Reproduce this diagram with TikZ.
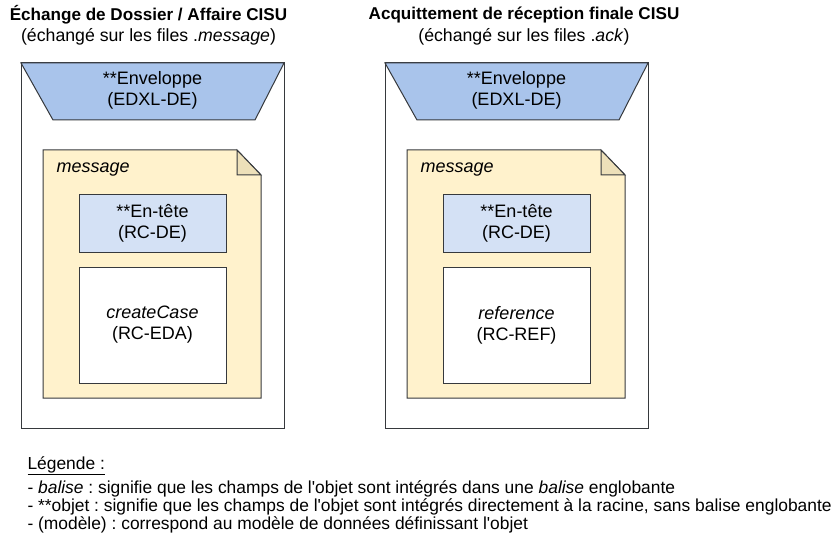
\documentclass[tikz,border=0pt]{standalone}
\usepackage{fontspec}
\setmainfont{Liberation Sans}
\usepackage{tikz}
\frenchspacing
\definecolor{envfill}{HTML}{A9C4EB}
\definecolor{headfill}{HTML}{D4E1F5}
\definecolor{msgfill}{HTML}{FFF2CC}
\definecolor{foldfill}{HTML}{EDE0B9}
\definecolor{edge}{HTML}{36393D}
\tikzset{
  box/.style={draw=edge,line width=1pt},
  lbl/.style={align=center,font=\fontsize{18}{21}\selectfont},
  ttl/.style={align=center,font=\fontsize{17.1}{19}\selectfont\bfseries},
  sub/.style={align=center,font=\fontsize{17.7}{19}\selectfont},
  leg/.style={anchor=west,font=\fontsize{17.4}{19}\selectfont}
}
\begin{document}
\begin{tikzpicture}[x=1pt,y=-1pt]
\useasboundingbox[fill=white](0,0) rectangle (837,540);
% two columns: message / ack
\foreach \dx/\tx/\name/\title/\ext/\body/\model in {
  0/148.5/msg/{Échange de Dossier / Affaire CISU}/message/createCase/RC-EDA,
  364/160/ack/{Acquittement de réception finale CISU}/ack/reference/RC-REF}{
\begin{scope}[xshift=\dx]
\node[ttl](\name-title) at (\tx,15) {\title};
\node[sub](\name-sub) at (\tx,37) {(échangé sur les files .\textit{\ext})};
\draw[box,fill=white](21,63) rectangle (284,428);
\draw[box,fill=envfill](21,63)--(284,63)--(255,120)--(53,120)--cycle;
\node[lbl](\name-env) at (152.5,90) {**Enveloppe\\(EDXL-DE)};
\draw[box,fill=msgfill](43,150)--(237,150)--(261,175)--(261,398)--(43,398)--cycle;
\draw[box,fill=foldfill](237,150)--(237,175)--(261,175)--cycle;
\node[lbl,anchor=west](\name-doc) at (53,170) {\textit{message}};
\draw[box,fill=headfill](79,194) rectangle (226,252);
\node[lbl](\name-head) at (152.5,223) {**En-tête\\(RC-DE)};
\draw[box,fill=white](79,267) rectangle (226,383);
\node[lbl](\name-body) at (152.5,325) {\textit{\body}\\(\model)};
\end{scope}
}
% legend
\node[leg](leg0) at (24,466) {\underline{Légende :}};
\node[leg](leg1) at (24,489) {- \textit{balise} : signifie que les champs de l\textquotesingle objet sont intégrés dans une \textit{balise} englobante};
\node[leg](leg2) at (24,507) {- **objet : signifie que les champs de l\textquotesingle objet sont intégrés directement à la racine, sans balise englobante};
\node[leg](leg3) at (24,525) {- (modèle) : correspond au modèle de données définissant l\textquotesingle objet};
\end{tikzpicture}
\end{document}
